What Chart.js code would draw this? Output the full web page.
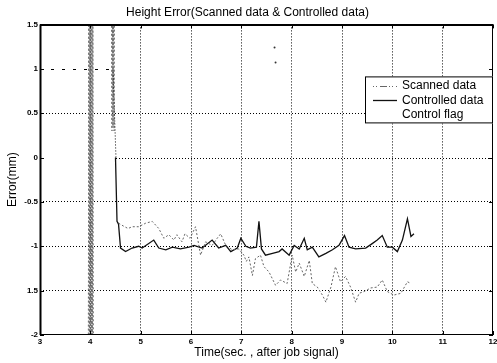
<!DOCTYPE html>
<html>
<head>
<meta charset="utf-8">
<script src="https://cdn.jsdelivr.net/npm/chart.js@4/dist/chart.umd.min.js"></script>
<style>
  html, body { margin: 0; padding: 0; background: #fff; }
  canvas { display: block; }
</style>
</head>
<body>
<canvas id="heightErrorChart" width="497" height="363"></canvas>
<script>
// Axis tick labels (as printed on the scan)
var xTickLabels = ["3", "4", "5", "6", "7", "8", "9", "10", "11", "12"];
var yTickValues = [-2, -1.5, -1, -0.5, 0, 0.5, 1, 1.5];
var yTickLabels = ["-2", "1.5", "-1", "-0.5", "0", "0.5", "1", "1.5"];

// Scanned data (null = break in the trace)
var scannedX = [3.96, 3.97, 3.98, 3.99, 4.0, 4.01, 4.02, 4.03, 4.04, 4.05, 4.06, 4.07,
    4.42, 4.43, 4.44, 4.45, 4.46, 4.47, 4.48, 4.5,
    4.56, 4.65, 4.75, 4.83, 4.96, 5.1, 5.23, 5.36, 5.46, 5.56, 5.66, 5.72, 5.82, 5.88,
    5.98, 6.09, 6.19, 6.29, 6.42, 6.52, 6.59, 6.69, 6.82, 6.95, 7.05, 7.1, 7.15, 7.22,
    7.28, 7.38, 7.45, 7.55, 7.68, 7.78, 7.91, 8.01, 8.08, 8.15, 8.25, 8.35, 8.41, 8.51,
    8.61, 8.68, 8.78, 8.87, 8.97, 9.07, 9.17, 9.27, 9.34, 9.44, 9.57, 9.7, 9.8, 9.9,
    10.03, 10.17, 10.3, 10.37];
var scannedY = [-2.4, 1.8, -2.4, 1.8, -2.4, 1.8, -2.4, 1.8, -2.4, 1.8, -2.4, null,
    1.8, 0.3, 1.8, 0.35, 1.8, 0.3, 1.8, null,
    -0.74, -0.77, -0.8, -0.78, -0.78, -0.74, -0.72, -0.8, -0.91, -0.87, -0.93, -0.87, -0.95, -0.86,
    -0.91, -0.78, -1.1, -0.95, -0.99, -0.91, -0.86, -0.99, -1.04, -1.03, -1.1, -1.17, -1.12, -1.33,
    -1.14, -1.1, -1.23, -1.29, -1.44, -1.38, -1.42, -1.1, -1.29, -1.19, -1.34, -1.16, -1.42, -1.46,
    -1.55, -1.63, -1.46, -1.23, -1.4, -1.34, -1.46, -1.63, -1.53, -1.51, -1.47, -1.46, -1.38, -1.51,
    -1.55, -1.53, -1.4, -1.42];

// Controlled data
var controlledX = [4.5, 4.53, 4.56, 4.6, 4.7, 4.83, 4.96, 5.03, 5.26, 5.36, 5.5, 5.63, 5.79,
    5.96, 6.06, 6.22, 6.42, 6.55, 6.69, 6.79, 6.92, 6.99, 7.09, 7.18, 7.3, 7.35, 7.4,
    7.48, 7.62, 7.75, 7.81, 7.95, 8.05, 8.15, 8.25, 8.31, 8.41, 8.54, 8.68, 8.81, 8.94,
    9.05, 9.14, 9.27, 9.47, 9.6, 9.7, 9.8, 9.9, 10.0, 10.1, 10.2, 10.3, 10.37, 10.43];
var controlledY = [0, -0.72, -0.75, -1.02, -1.06, -1.02, -1.0, -1.02, -0.93, -1.02, -1.04, -1.01, -1.03,
    -1.01, -0.99, -1.02, -0.93, -1.02, -0.99, -1.06, -1.02, -0.91, -1.0, -1.02, -1.01, -0.72, -1.03,
    -1.1, -1.08, -1.06, -1.03, -1.1, -0.99, -1.03, -0.91, -1.04, -1.01, -1.12, -1.08, -1.04, -0.99,
    -0.88, -1.01, -1.03, -1.02, -0.97, -0.93, -0.88, -1.01, -1.01, -1.06, -0.93, -0.69, -0.89, -0.86];

// Control flag
var flagX = [3, 4.45, 4.5, 12];
var flagY = [1, 1, 0, 0];

// Stray marks on the scan
var strayX = [7.66, 7.68];
var strayY = [1.24, 1.07];

function toPoints(xs, ys) {
    return xs.map(function (x, i) {
        return { x: x, y: ys[i] };
    });
}

Chart.defaults.font.family = "'Liberation Sans', Arial, sans-serif";
Chart.defaults.color = "#000";

// Control flag trace: dotted steps, drawn through the chart's scales
var flagPlugin = {
    id: "flagLine",
    afterDatasetsDraw: function (chart) {
        var c = chart.ctx;
        var a = chart.chartArea;
        var xs = chart.scales.x;
        var ys = chart.scales.y;
        var pts = chart.data.datasets[2].data;
        c.save();
        c.beginPath();
        c.rect(a.left, a.top, a.right - a.left, a.bottom - a.top);
        c.clip();
        c.strokeStyle = "#000";
        c.lineWidth = 1;
        for (var i = 1; i < pts.length; i++) {
            var p0 = pts[i - 1], p1 = pts[i];
            var x0 = Math.round(xs.getPixelForValue(p0.x));
            var x1 = Math.round(xs.getPixelForValue(p1.x));
            var y0 = Math.round(ys.getPixelForValue(p0.y)) + 0.5;
            var y1 = Math.round(ys.getPixelForValue(p1.y)) + 0.5;
            c.setLineDash(p0.y === 1 && p1.y === 1 ? [3, 8] : [1, 2]);
            c.beginPath();
            c.moveTo(x0, y0);
            c.lineTo(x1, y1);
            c.stroke();
        }
        c.restore();
    },
};

// Box, inward ticks and the legend inside the plot
var framePlugin = {
    id: "frame",
    afterDraw: function (chart) {
        var c = chart.ctx;
        var a = chart.chartArea;
        var xs = chart.scales.x;
        var ys = chart.scales.y;
        c.save();
        c.strokeStyle = "#000";
        c.lineWidth = 1;
        c.strokeRect(a.left + 0.5, a.top + 0.5, a.right - a.left - 1, a.bottom - a.top - 1);
        c.lineWidth = 2;
        c.beginPath();
        c.moveTo(a.left + 0.5, a.top);
        c.lineTo(a.left + 0.5, a.bottom);
        c.moveTo(a.left, a.top + 0.5);
        c.lineTo(a.right, a.top + 0.5);
        c.stroke();

        c.lineWidth = 1;
        c.beginPath();
        xs.ticks.forEach(function (t) {
            var px = Math.round(xs.getPixelForValue(t.value)) + 0.5;
            c.moveTo(px, a.bottom);
            c.lineTo(px, a.bottom - 4);
            c.moveTo(px, a.top);
            c.lineTo(px, a.top + 4);
        });
        ys.ticks.forEach(function (t) {
            var py = Math.round(ys.getPixelForValue(t.value)) + 0.5;
            c.moveTo(a.left, py);
            c.lineTo(a.left + 4, py);
            c.moveTo(a.right, py);
            c.lineTo(a.right - 4, py);
        });
        c.stroke();

        // legend
        var bw = 128, bh = 47;
        var bx = a.right - bw, by = a.top + 52;
        c.fillStyle = "#fff";
        c.fillRect(bx, by, bw, bh);
        c.strokeStyle = "#000";
        c.strokeRect(bx + 0.5, by + 0.5, bw - 1, bh - 1);
        c.font = "12px 'Liberation Sans', Arial, sans-serif";
        c.textBaseline = "middle";
        c.fillStyle = "#000";
        chart.data.datasets.forEach(function (ds, i) {
            if (!ds.label) return;
            var ry = by + 9.5 + i * 14.5;
            if (ds.legendSample !== false) {
                c.save();
                c.strokeStyle = ds.borderColor;
                c.lineWidth = ds.borderWidth;
                c.setLineDash(ds.legendDash || []);
                c.beginPath();
                c.moveTo(bx + 8, Math.round(ry) + 0.5);
                c.lineTo(bx + 32, Math.round(ry) + 0.5);
                c.stroke();
                c.restore();
            }
            c.fillText(ds.label, bx + 37, ry);
        });
        c.restore();
    },
};

var ctx = document.getElementById("heightErrorChart").getContext("2d");
new Chart(ctx, {
    type: "scatter",
    data: {
        datasets: [
            {
                label: "Scanned data",
                data: toPoints(scannedX, scannedY),
                showLine: true,
                spanGaps: false,
                borderColor: "#666",
                borderWidth: 1,
                borderDash: [2, 2],
                legendDash: [1, 2, 1, 3, 7, 2],
                pointRadius: 0,
            },
            {
                label: "Controlled data",
                data: toPoints(controlledX, controlledY),
                showLine: true,
                borderColor: "#111",
                borderWidth: 1.3,
                pointRadius: 0,
            },
            {
                label: "Control flag",
                data: toPoints(flagX, flagY),
                showLine: false,
                borderColor: "#000",
                borderWidth: 1,
                legendSample: false,
                pointRadius: 0,
            },
            {
                label: "",
                data: toPoints(strayX, strayY),
                showLine: false,
                pointRadius: 1,
                pointBorderWidth: 0,
                backgroundColor: "#333",
            },
        ],
    },
    options: {
        responsive: false,
        animation: false,
        layout: { padding: { right: 2 } },
        plugins: {
            legend: { display: false },
            tooltip: { enabled: false },
            title: {
                display: true,
                text: "Height Error(Scanned data & Controlled data)",
                font: { size: 12, weight: "normal" },
                color: "#000",
                padding: { top: 5, bottom: 5 },
            },
        },
        scales: {
            x: {
                type: "linear",
                min: 3,
                max: 12,
                afterBuildTicks: function (s) {
                    s.ticks = xTickLabels.map(function (l) {
                        return { value: Number(l) };
                    });
                },
                ticks: {
                    autoSkip: false,
                    maxRotation: 0,
                    padding: 2,
                    font: { size: 8, weight: "bold" },
                    color: "#000",
                    callback: function (v) {
                        var i = xTickLabels.indexOf(String(v));
                        return i >= 0 ? xTickLabels[i] : "";
                    },
                },
                grid: {
                    drawTicks: false,
                    color: function (c) {
                        if (!c.tick || c.tick.value === 3 || c.tick.value === 12) return "rgba(0,0,0,0)";
                        return "#000";
                    },
                },
                border: { display: false, dash: [1, 2] },
                title: {
                    display: true,
                    text: "Time(sec. , after job signal)",
                    font: { size: 12 },
                    color: "#000",
                    padding: { top: 0, bottom: 3 },
                },
                afterFit: function (s) {
                    s.height = 28;
                    s.paddingLeft = 0;
                    s.paddingRight = 0;
                },
            },
            y: {
                type: "linear",
                min: -2,
                max: 1.5,
                afterBuildTicks: function (s) {
                    s.ticks = yTickValues.map(function (v) {
                        return { value: v };
                    });
                },
                ticks: {
                    autoSkip: false,
                    padding: 2,
                    font: { size: 8, weight: "bold" },
                    color: "#000",
                    callback: function (v) {
                        var i = yTickValues.indexOf(v);
                        return i >= 0 ? yTickLabels[i] : "";
                    },
                },
                grid: {
                    drawTicks: false,
                    color: function (c) {
                        if (!c.tick) return "rgba(0,0,0,0)";
                        var v = c.tick.value;
                        if (v === 0 || v === 1 || v === -2 || v === 1.5) return "rgba(0,0,0,0)";
                        return "#000";
                    },
                },
                border: { display: false, dash: [1, 2] },
                title: {
                    display: true,
                    text: "Error(mm)",
                    font: { size: 12 },
                    color: "#000",
                    padding: { top: 5, bottom: 0 },
                },
                afterFit: function (s) {
                    s.width = 40;
                    s.paddingTop = 0;
                    s.paddingBottom = 0;
                },
            },
        },
    },
    plugins: [flagPlugin, framePlugin],
});
</script>
</body>
</html>
